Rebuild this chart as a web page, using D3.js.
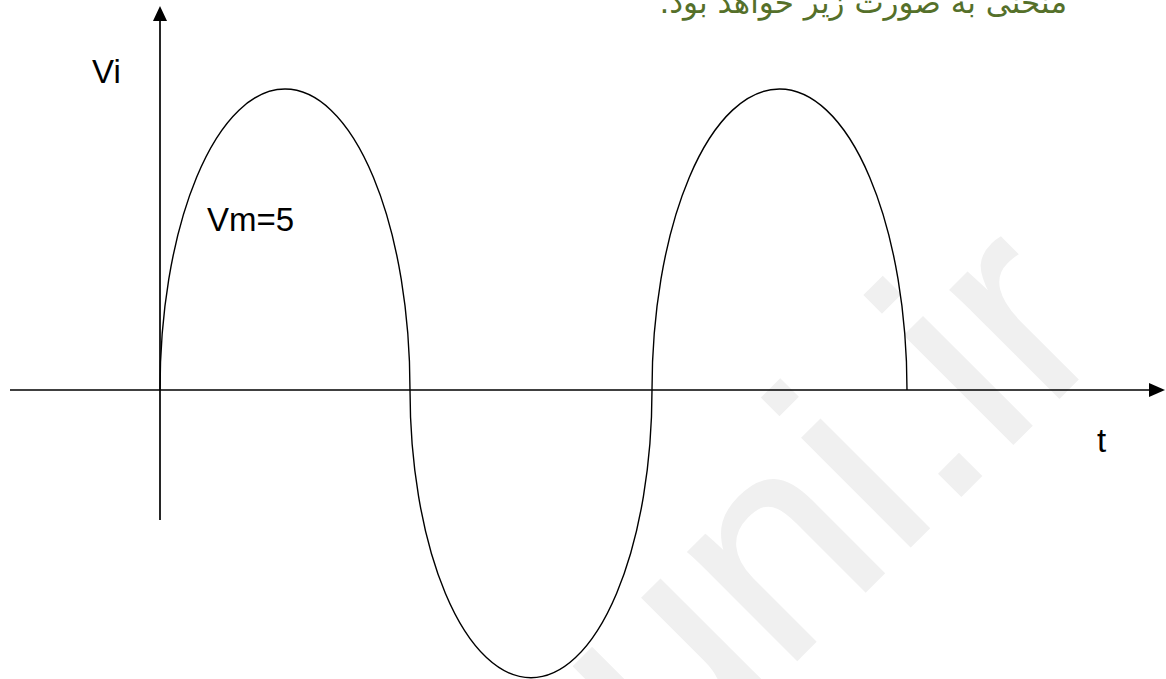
<!DOCTYPE html>
<html>
<head>
<meta charset="utf-8">
<script src="https://cdn.jsdelivr.net/npm/d3@7"></script>
<style>
  html, body { margin: 0; padding: 0; background: #fff; overflow: hidden; }
  text { font-family: "Liberation Sans", Arial, sans-serif; }
</style>
</head>
<body>
<div id="chart"></div>
<script>
const width = 1166;
const height = 679;

// zero crossings of the wave (t, in half periods) and the peak of each half wave
const crossings = [0, 1, 1.968, 2.988];
const peaks = [5, -4.78, 5];

// axis extents
const tRange = [-0.6, 4.02];
const vRange = [-2.16, 6.38];

const labels = { v: "Vi", vm: "Vm=5", t: "t" };
const caption = "منحنی به صورت زیر خواهد بود.";
const watermark = "uni.ir";

const svg = d3.select("#chart")
  .append("svg")
  .attr("width", width)
  .attr("height", height);

const x = d3.scaleLinear().domain([0, 1]).range([160, 410]);
const y = d3.scaleLinear().domain([0, 5]).range([390, 89]);

// faint watermark behind everything
svg.append("text")
  .attr("x", 669)
  .attr("y", 788)
  .attr("transform", "rotate(-45, 669, 788)")
  .attr("font-size", 290)
  .attr("fill", "#f0f0f0")
  .attr("stroke", "#f0f0f0")
  .attr("stroke-width", 2)
  .text(watermark);

// caption cut at the top edge
svg.append("text")
  .attr("x", 1067)
  .attr("y", 13)
  .attr("text-anchor", "start")
  .attr("direction", "rtl")
  .style("font-family", "'DejaVu Sans', sans-serif")
  .attr("font-size", 31)
  .attr("fill", "#55702a")
  .text(caption);

// axes
svg.append("line")
  .attr("x1", x(tRange[0])).attr("x2", x(tRange[1]) - 12)
  .attr("y1", y(0)).attr("y2", y(0))
  .attr("stroke", "#000").attr("stroke-width", 1.7);

svg.append("line")
  .attr("x1", x(0)).attr("x2", x(0))
  .attr("y1", y(vRange[0])).attr("y2", y(vRange[1]) + 12)
  .attr("stroke", "#000").attr("stroke-width", 1.7);

const tipX = x(tRange[1]);
svg.append("path")
  .attr("d", `M${tipX},${y(0)} L${tipX - 16},${y(0) - 7} L${tipX - 16},${y(0) + 7} Z`)
  .attr("fill", "#000");

const tipY = y(vRange[1]);
svg.append("path")
  .attr("d", `M${x(0)},${tipY} L${x(0) - 7},${tipY + 15} L${x(0) + 7},${tipY + 15} Z`)
  .attr("fill", "#000");

// half waves drawn as half ellipses
const halves = peaks.map((p, i) => ({ t0: crossings[i], t1: crossings[i + 1], peak: p }));

svg.selectAll("path.wave")
  .data(halves)
  .enter()
  .append("path")
  .attr("class", "wave")
  .attr("d", d => {
    const x0 = x(d.t0), x1 = x(d.t1);
    const rx = (x1 - x0) / 2;
    const ry = Math.abs(y(d.peak) - y(0));
    const sweep = d.peak > 0 ? 1 : 0;
    return `M${x0},${y(0)} A${rx},${ry} 0 0 ${sweep} ${x1},${y(0)}`;
  })
  .attr("fill", "none")
  .attr("stroke", "#000")
  .attr("stroke-width", 1.4);

// labels
svg.append("text")
  .attr("x", 92).attr("y", 83)
  .attr("font-size", 33)
  .text(labels.v);

svg.append("text")
  .attr("x", 207).attr("y", 231)
  .attr("font-size", 33)
  .text(labels.vm);

svg.append("text")
  .attr("x", 1097).attr("y", 452)
  .attr("font-size", 33)
  .text(labels.t);
</script>
</body>
</html>
